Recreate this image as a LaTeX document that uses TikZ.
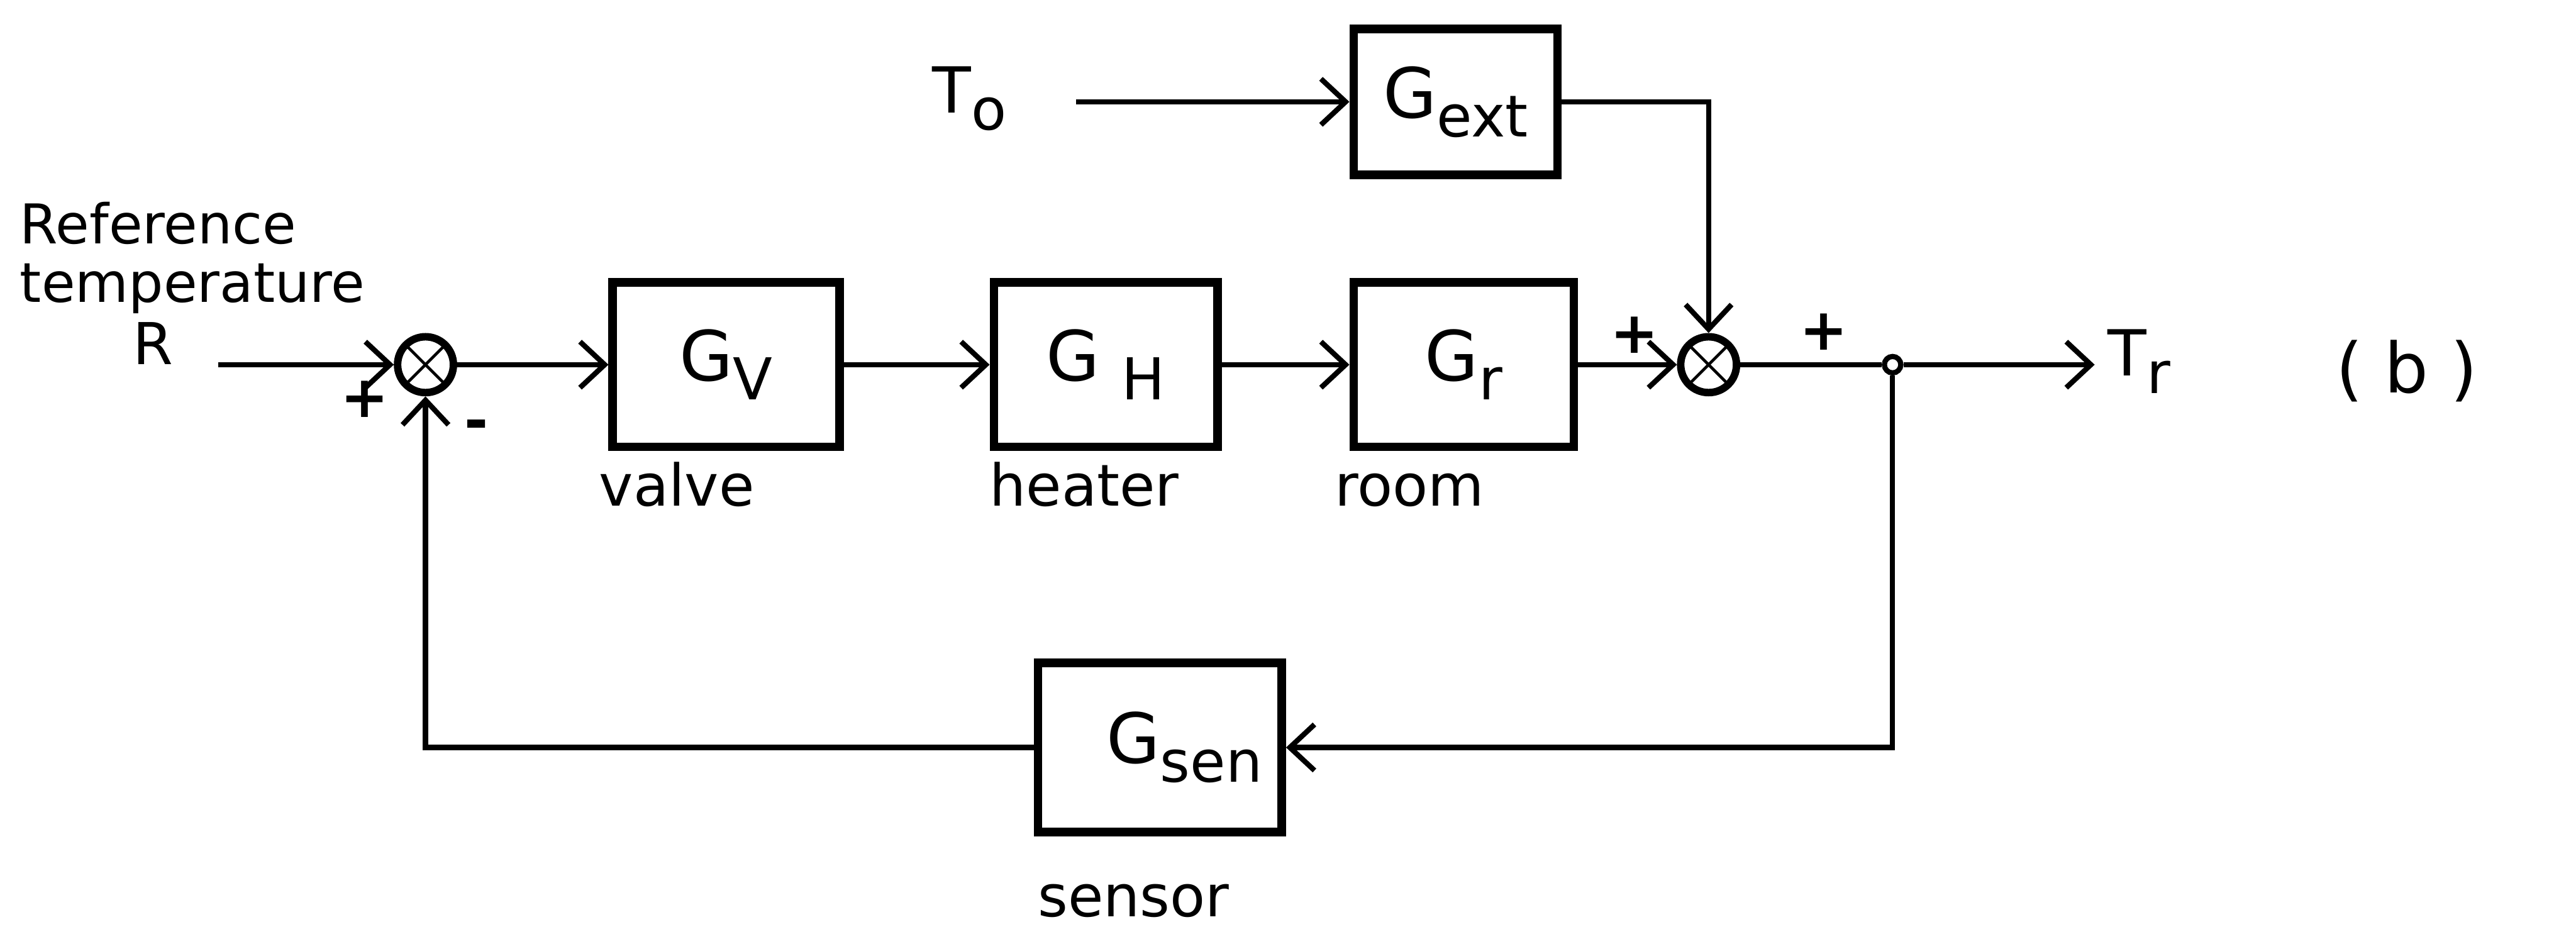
\documentclass[tikz,border=0pt]{standalone}
\usepackage{fontspec}
\setmainfont{DejaVu Sans}
\usepackage{tikz}
\usetikzlibrary{arrows.meta, positioning}
\newcommand{\blocklbl}[2]{#1\raisebox{-0.5ex}{\fontsize{10}{12}\selectfont #2}}

\begin{document}
\begin{tikzpicture}[
    block/.style={draw, rectangle, line width=1.5pt, minimum height=1cm, minimum width=1.36cm, align=center, font=\fontsize{12}{14}\selectfont},
    summer/.style={draw, circle, line width=1.3pt, minimum size=0.34cm, inner sep=0pt,
        path picture={\draw[line width=0.5pt] (path picture bounding box.north west) -- (path picture bounding box.south east)
                                              (path picture bounding box.north east) -- (path picture bounding box.south west);}},
    lbl/.style={font=\fontsize{10}{12}\selectfont, inner sep=1pt},
    sgn/.style={font=\fontsize{10}{12}\selectfont\bfseries, inner sep=0pt},
    arrow/.style={-{Straight Barb[length=1.5mm, width=2.8mm]}, line width=0.9pt},
    line/.style={line width=0.9pt}
]
\useasboundingbox (0,0) rectangle (15.68,5.64);

\node[lbl, align=left, anchor=west, font=\fontsize{9.5}{10.2}\selectfont] (reftxt) at (0.08,4.07) {Reference\\temperature};
\node[lbl] (R) at (0.93,3.55) {R};
\coordinate (in) at (1.33,3.42);
\node[summer] (sum1) at (2.59,3.42) {};
\node[sgn] (plus1) at (2.22,3.21) {+};
\node[sgn] (minus1) at (2.90,3.02) {-};

\node[block, minimum width=1.38cm] (valve) at (4.42,3.42) {\blocklbl{G}{V}};
\node[block] (heater) at (6.73,3.42) {\blocklbl{G }{H}};
\node[block, minimum width=1.34cm] (room) at (8.91,3.42) {\blocklbl{G}{r}};
\node[lbl, anchor=base] (valvetxt) at (4.12,2.56) {valve};
\node[lbl, anchor=base] (heatertxt) at (6.60,2.56) {heater};
\node[lbl, anchor=base] (roomtxt) at (8.58,2.56) {room};

\node[lbl, font=\fontsize{11}{13}\selectfont] (To) at (5.90,5.04) {\blocklbl{T}{o}};
\coordinate (ostart) at (6.55,5.02);
\node[block, minimum width=1.24cm, minimum height=0.89cm] (ext) at (8.86,5.02) {\blocklbl{G}{ext}};

\node[summer] (sum2) at (10.40,3.42) {};
\node[sgn] (plus2) at (9.95,3.60) {+};
\node[sgn] (plus3) at (11.10,3.62) {+};

\node[draw, circle, line width=0.9pt, minimum size=0.1cm, inner sep=0pt] (junc) at (11.52,3.42) {};
\coordinate (out) at (12.75,3.42);
\node[lbl, font=\fontsize{11}{13}\selectfont] (Tr) at (13.02,3.44) {\blocklbl{T}{r}};
\node[lbl, font=\fontsize{12}{14}\selectfont] (tag) at (14.65,3.38) {( b )};

\node[block, minimum width=1.27cm, minimum height=1.03cm] (sensor) at (7.06,1.09) {\hspace*{0.3cm}\blocklbl{G}{sen}};
\node[lbl, anchor=base] (sensortxt) at (6.90,0.06) {sensor};

\draw[arrow] (in) -- (sum1.west);
\draw[arrow] (sum1.east) -- (valve.west);
\draw[arrow] (valve.east) -- (heater.west);
\draw[arrow] (heater.east) -- (room.west);
\draw[arrow] (room.east) -- (sum2.west);
\draw[arrow] (ostart) -- (ext.west);
\draw[arrow] (ext.east) -| (sum2.north);
\draw[line] (sum2.east) -- (junc.west);
\draw[arrow] (junc.east) -- (out);
\draw[arrow] (junc.south) |- (sensor.east);
\draw[arrow] (sensor.west) -| (sum1.south);

\end{tikzpicture}
\end{document}
